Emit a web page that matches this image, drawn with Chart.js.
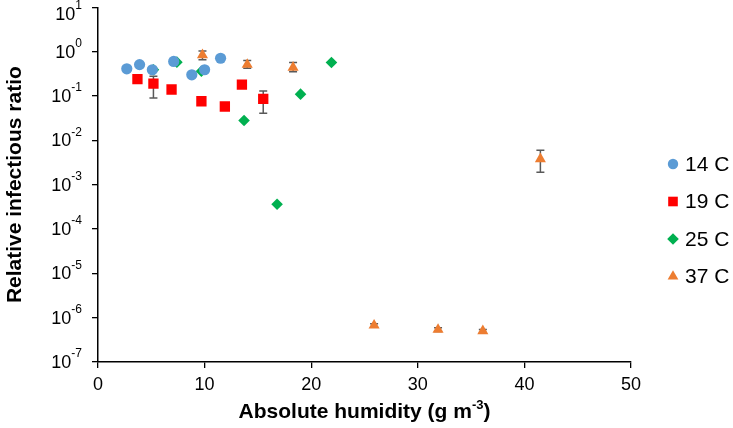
<!DOCTYPE html>
<html>
<head>
<meta charset="utf-8">
<script src="https://cdn.jsdelivr.net/npm/chart.js@4"></script>
<style>
  body { margin: 0; background: #fff; }
  #wrap { width: 733px; height: 428px; }
</style>
</head>
<body>
<div id="wrap"><canvas id="myChart"></canvas></div>
<script>
// data
const humidity14 = [2.7, 3.9, 5.1, 7.1, 8.8, 10.0, 11.5]
const ratio14 = [0.41, 0.51, 0.39, 0.60, 0.30, 0.39, 0.71]

const humidity19 = [3.7, 5.2, 6.9, 9.7, 11.9, 13.5, 15.5]
const ratio19 = [0.24, 0.19, 0.14, 0.076, 0.058, 0.18, 0.086]
const low19 = [null, 0.09, null, null, null, null, 0.041]
const high19 = [null, 0.28, null, null, null, null, 0.13]

const humidity25 = [5.2, 7.4, 9.7, 13.7, 16.8, 19.0, 21.9]
const ratio25 = [0.39, 0.58, 0.36, 0.028, 0.00036, 0.11, 0.57]

const humidity37 = [9.8, 14.0, 18.3, 25.9, 31.9, 36.1, 41.5]
const ratio37 = [0.84, 0.51, 0.44, 6.7e-7, 5.4e-7, 5.0e-7, 3.8e-3]
const low37 = [0.66, 0.42, 0.35, 6.1e-7, 4.9e-7, 4.6e-7, 1.9e-3]
const high37 = [1.04, 0.63, 0.57, 7.3e-7, 5.9e-7, 5.4e-7, 6.0e-3]

const seriesNames = ['14 C', '19 C', '25 C', '37 C']
const xTicks = [0, 10, 20, 30, 40, 50]
const yTicks = [1e-7, 1e-6, 1e-5, 1e-4, 1e-3, 1e-2, 1e-1, 1, 10]

const FONT = "'Liberation Sans', Arial, sans-serif"

function pts(xs, ys) {
  return xs.map((x, i) => ({ x: x, y: ys[i] }))
}

// error bars, drawn from the scales
const errorBars = {
  id: 'errorBars',
  beforeDatasetsDraw(chart) {
    const ctx = chart.ctx
    const xs = chart.scales.x, ys = chart.scales.y
    ctx.save()
    ctx.strokeStyle = '#595959'
    ctx.lineWidth = 1.5
    chart.data.datasets.forEach(ds => {
      if (!ds.errLow) return
      ds.data.forEach((p, i) => {
        if (ds.errLow[i] == null) return
        const px = xs.getPixelForValue(p.x)
        const y1 = ys.getPixelForValue(ds.errLow[i])
        const y2 = ys.getPixelForValue(ds.errHigh[i])
        ctx.beginPath()
        ctx.moveTo(px, y1); ctx.lineTo(px, y2)
        ctx.moveTo(px - 4, y1); ctx.lineTo(px + 4, y1)
        ctx.moveTo(px - 4, y2); ctx.lineTo(px + 4, y2)
        ctx.stroke()
      })
    })
    ctx.restore()
  }
}

// y tick labels with superscript, axis titles, legend
const decorations = {
  id: 'decorations',
  afterDraw(chart) {
    const ctx = chart.ctx
    const ys = chart.scales.y
    const area = chart.chartArea
    ctx.save()
    ctx.fillStyle = '#000'
    ctx.textBaseline = 'middle'
    yTicks.forEach(v => {
      const py = Math.max(ys.getPixelForValue(v), 14)
      const ex = String(Math.round(Math.log10(v)))
      ctx.font = '12px ' + FONT
      const ew = ctx.measureText(ex).width
      const right = area.left - 16
      ctx.textAlign = 'left'
      ctx.fillText(ex, right - ew, py - 8)
      ctx.font = '18px ' + FONT
      ctx.textAlign = 'right'
      ctx.fillText('10', right - ew, py + 1)
    })

    // y title
    ctx.save()
    ctx.translate(15, (area.top + area.bottom) / 2)
    ctx.rotate(-Math.PI / 2)
    ctx.font = 'bold 21px ' + FONT
    ctx.textAlign = 'center'
    ctx.fillText('Relative infectious ratio', 0, 0)
    ctx.restore()

    // x title with superscript
    const t1 = 'Absolute humidity (g m', sup = '-3', t2 = ')'
    ctx.font = 'bold 21px ' + FONT
    const w1 = ctx.measureText(t1).width, w3 = ctx.measureText(t2).width
    ctx.font = 'bold 13px ' + FONT
    const w2 = ctx.measureText(sup).width
    let tx = (area.left + area.right) / 2 - (w1 + w2 + w3) / 2
    const ty = 412
    ctx.textAlign = 'left'
    ctx.font = 'bold 21px ' + FONT
    ctx.fillText(t1, tx, ty)
    ctx.font = 'bold 13px ' + FONT
    ctx.fillText(sup, tx + w1, ty - 7)
    ctx.font = 'bold 21px ' + FONT
    ctx.fillText(t2, tx + w1 + w2, ty)

    // legend
    const sizes = [5.2, 6.8, 5.8, 6.2]
    chart.data.datasets.forEach((ds, i) => {
      const ly = 164 + i * 37.5
      ctx.fillStyle = ds.backgroundColor
      Chart.helpers.drawPoint(ctx, { pointStyle: ds.pointStyle, radius: sizes[i], rotation: 0, borderWidth: 0 }, 673, ly)
      ctx.fillStyle = '#000'
      ctx.font = '21px ' + FONT
      ctx.textAlign = 'left'
      ctx.fillText(ds.label, 685, ly + 1)
    })
    ctx.restore()
  }
}

const ctx = document.getElementById('myChart')

new Chart(ctx, {
  type: 'scatter',
  data: {
    datasets: [
      { label: seriesNames[0], data: pts(humidity14, ratio14), pointStyle: 'circle', pointRadius: 5.6,
        backgroundColor: '#5B9BD5', borderWidth: 0 },
      { label: seriesNames[1], data: pts(humidity19, ratio19), pointStyle: 'rect', pointRadius: 7.3,
        backgroundColor: '#FF0000', borderWidth: 0, errLow: low19, errHigh: high19 },
      { label: seriesNames[2], data: pts(humidity25, ratio25), pointStyle: 'rectRot', pointRadius: 5.8,
        backgroundColor: '#00B050', borderWidth: 0 },
      { label: seriesNames[3], data: pts(humidity37, ratio37), pointStyle: 'triangle', pointRadius: 6.4,
        backgroundColor: '#ED7D31', borderWidth: 0, errLow: low37, errHigh: high37 }
    ]
  },
  options: {
    responsive: true,
    maintainAspectRatio: false,
    animation: false,
    layout: { padding: { left: 0, top: 5, right: 102, bottom: 0 } },
    plugins: { legend: { display: false }, tooltip: { enabled: false } },
    scales: {
      x: {
        type: 'linear', min: 0, max: 50,
        afterBuildTicks: s => { s.ticks = xTicks.map(v => ({ value: v })) },
        afterFit: s => { s.height = 66 },
        grid: { drawOnChartArea: false, drawTicks: true, tickLength: 6, color: '#000', lineWidth: 1.3 },
        border: { display: true, color: '#000', width: 1.5 },
        ticks: { color: '#000', font: { family: FONT, size: 18 }, padding: 6, maxRotation: 0 }
      },
      y: {
        type: 'logarithmic', min: 1e-7, max: 10,
        afterBuildTicks: s => { s.ticks = yTicks.map(v => ({ value: v })) },
        afterFit: s => { s.width = 98 },
        grid: { drawOnChartArea: false, drawTicks: true, tickLength: 6, color: '#000', lineWidth: 1.3 },
        border: { display: true, color: '#000', width: 1.5 },
        ticks: { display: false }
      }
    }
  },
  plugins: [errorBars, decorations]
})
</script>
</body>
</html>
